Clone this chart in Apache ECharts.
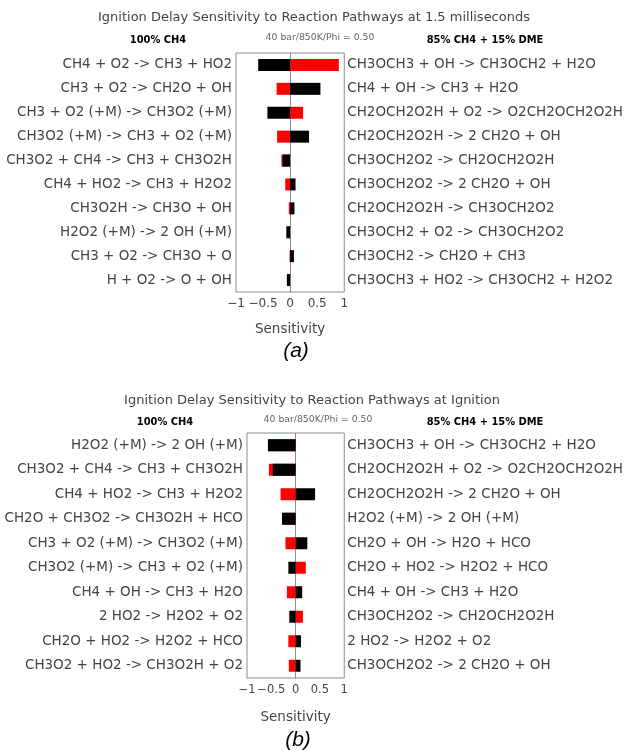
<!DOCTYPE html>
<html>
<head>
<meta charset="utf-8">
<script src="https://cdn.jsdelivr.net/npm/echarts@6/dist/echarts.min.js"></script>
<style>
  html, body { margin: 0; padding: 0; background: #fff; }
  #chart { width: 626px; height: 754px; }
</style>
</head>
<body>
<div id="chart"></div>
<script>
// Panel (a): sensitivities at 1.5 ms
const reactionsCH4A = [
  'CH4 + O2 -> CH3 + HO2',
  'CH3 + O2 -> CH2O + OH',
  'CH3 + O2 (+M) -> CH3O2 (+M)',
  'CH3O2 (+M) -> CH3 + O2 (+M)',
  'CH3O2 + CH4 -> CH3 + CH3O2H',
  'CH4 + HO2 -> CH3 + H2O2',
  'CH3O2H -> CH3O + OH',
  'H2O2 (+M) -> 2 OH (+M)',
  'CH3 + O2 -> CH3O + O',
  'H + O2 -> O + OH'
];
const reactionsDMEA = [
  'CH3OCH3 + OH -> CH3OCH2 + H2O',
  'CH4 + OH -> CH3 + H2O',
  'CH2OCH2O2H + O2 -> O2CH2OCH2O2H',
  'CH2OCH2O2H -> 2 CH2O + OH',
  'CH3OCH2O2 -> CH2OCH2O2H',
  'CH3OCH2O2 -> 2 CH2O + OH',
  'CH2OCH2O2H -> CH3OCH2O2',
  'CH3OCH2 + O2 -> CH3OCH2O2',
  'CH3OCH2 -> CH2O + CH3',
  'CH3OCH3 + HO2 -> CH3OCH2 + H2O2'
];
const sensCH4A = [-0.59, 0.56, -0.42, 0.35, -0.14, 0.10, 0.08, -0.07, 0.07, -0.06];
const sensDMEA = [0.90, -0.25, 0.24, -0.24, -0.16, -0.09, -0.025, -0.02, -0.01, -0.01];

// Panel (b): sensitivities at ignition
const reactionsCH4B = [
  'H2O2 (+M) -> 2 OH (+M)',
  'CH3O2 + CH4 -> CH3 + CH3O2H',
  'CH4 + HO2 -> CH3 + H2O2',
  'CH2O + CH3O2 -> CH3O2H + HCO',
  'CH3 + O2 (+M) -> CH3O2 (+M)',
  'CH3O2 (+M) -> CH3 + O2 (+M)',
  'CH4 + OH -> CH3 + H2O',
  '2 HO2 -> H2O2 + O2',
  'CH2O + HO2 -> H2O2 + HCO',
  'CH3O2 + HO2 -> CH3O2H + O2'
];
const reactionsDMEB = [
  'CH3OCH3 + OH -> CH3OCH2 + H2O',
  'CH2OCH2O2H + O2 -> O2CH2OCH2O2H',
  'CH2OCH2O2H -> 2 CH2O + OH',
  'H2O2 (+M) -> 2 OH (+M)',
  'CH2O + OH -> H2O + HCO',
  'CH2O + HO2 -> H2O2 + HCO',
  'CH4 + OH -> CH3 + H2O',
  'CH3OCH2O2 -> CH2OCH2O2H',
  '2 HO2 -> H2O2 + O2',
  'CH3OCH2O2 -> 2 CH2O + OH'
];
const sensCH4B = [-0.57, -0.47, 0.40, -0.28, 0.24, -0.15, 0.135, -0.13, 0.11, 0.10];
const sensDMEB = [-0.56, -0.55, -0.31, -0.25, -0.21, 0.21, -0.18, 0.15, -0.15, -0.14];

const tickLabels = ['\u22121', '\u22120.5', '0', '0.5', '1'];
const tickValues = [-1, -0.5, 0, 0.5, 1];

const titleA = 'Ignition Delay Sensitivity to Reaction Pathways at 1.5 milliseconds';
const titleB = 'Ignition Delay Sensitivity to Reaction Pathways at Ignition';
const headCH4 = '100% CH4';
const headDME = '85% CH4 + 15% DME';
const conditions = '40 bar/850K/Phi = 0.50';
const axisName = 'Sensitivity';

const FONT = "'DejaVu Sans', Verdana, sans-serif";
const TEXT = '#444';
const BLACK = '#000000';
const RED = '#ff0000';

const grids = [
  { left: 236, top: 53, width: 112, height: 239, nameGap: 30, tickSize: 12 },
  { left: 247, top: 433, width: 100, height: 245, nameGap: 32, tickSize: 11.5 }
];

function tickFmt(v) {
  const i = tickValues.findIndex(t => Math.abs(t - v) < 1e-9);
  return i >= 0 ? tickLabels[i] : '';
}

function xAxisFor(gi) {
  return {
    type: 'value', gridIndex: gi, min: -1, max: 1, interval: 0.5,
    axisLine: { show: false }, axisTick: { show: false }, splitLine: { show: false },
    axisLabel: {
      formatter: tickFmt, color: TEXT, fontFamily: FONT, fontSize: grids[gi].tickSize, margin: 6,
      showMinLabel: true, showMaxLabel: true, hideOverlap: false
    },
    name: axisName, nameLocation: 'middle', nameGap: grids[gi].nameGap,
    nameTextStyle: { color: TEXT, fontFamily: FONT, fontSize: 13.5 }
  };
}

function yAxesFor(gi, leftData, rightData) {
  const common = {
    type: 'category', gridIndex: gi, inverse: true,
    axisLine: { show: false }, axisTick: { show: false }, splitLine: { show: false }
  };
  return [
    Object.assign({}, common, {
      position: 'left', data: leftData,
      axisLabel: { color: TEXT, fontFamily: FONT, fontSize: 13.5, margin: 4 }
    }),
    Object.assign({}, common, {
      position: 'right', data: rightData,
      axisLabel: { color: TEXT, fontFamily: FONT, fontSize: 13.5, margin: 3 }
    })
  ];
}

function seriesFor(gi, ch4, dme) {
  return [
    {
      type: 'bar', xAxisIndex: gi, yAxisIndex: gi * 2, data: dme,
      barWidth: 12, itemStyle: { color: RED }, silent: true,
      markLine: {
        silent: true, symbol: 'none', label: { show: false },
        lineStyle: { color: '#8c8c8c', type: 'solid', width: 1 },
        data: [{ xAxis: 0 }], z: 1
      }
    },
    {
      type: 'bar', xAxisIndex: gi, yAxisIndex: gi * 2, data: ch4,
      barWidth: 12, barGap: '-100%', itemStyle: { color: BLACK }, silent: true
    }
  ];
}

function label(x, y, text, font, fill) {
  return {
    type: 'text', x: x, y: y,
    style: { text: text, font: font, fill: fill, textAlign: 'center', textVerticalAlign: 'middle' }
  };
}

const HEAD_FONT = "bold 11px 'DejaVu Sans Condensed', sans-serif";
const TITLE_FONT = "13px 'DejaVu Sans', sans-serif";
const COND_FONT = "9.3px 'DejaVu Sans', sans-serif";
const PANEL_FONT = "italic 21px 'Liberation Sans', Arial, sans-serif";

const chart = echarts.init(document.getElementById('chart'), null, { renderer: 'canvas' });
chart.setOption({
  backgroundColor: '#ffffff',
  animation: false,
  grid: grids.map(g => ({
    left: g.left, top: g.top, width: g.width, height: g.height,
    show: true, borderColor: '#8c8c8c', borderWidth: 1, backgroundColor: 'transparent'
  })),
  xAxis: [xAxisFor(0), xAxisFor(1)],
  yAxis: yAxesFor(0, reactionsCH4A, reactionsDMEA).concat(yAxesFor(1, reactionsCH4B, reactionsDMEB)),
  series: seriesFor(0, sensCH4A, sensDMEA).concat(seriesFor(1, sensCH4B, sensDMEB)),
  graphic: [
    label(314, 18, titleA, TITLE_FONT, TEXT),
    label(158, 40, headCH4, HEAD_FONT, '#000'),
    label(320, 38, conditions, COND_FONT, '#666'),
    label(485, 40, headDME, HEAD_FONT, '#000'),
    label(296, 351, '(a)', PANEL_FONT, '#000'),

    label(312, 401, titleB, TITLE_FONT, TEXT),
    label(165, 422, headCH4, HEAD_FONT, '#000'),
    label(318, 420, conditions, COND_FONT, '#666'),
    label(485, 422, headDME, HEAD_FONT, '#000'),
    label(298, 740, '(b)', PANEL_FONT, '#000')
  ]
});
</script>
</body>
</html>
